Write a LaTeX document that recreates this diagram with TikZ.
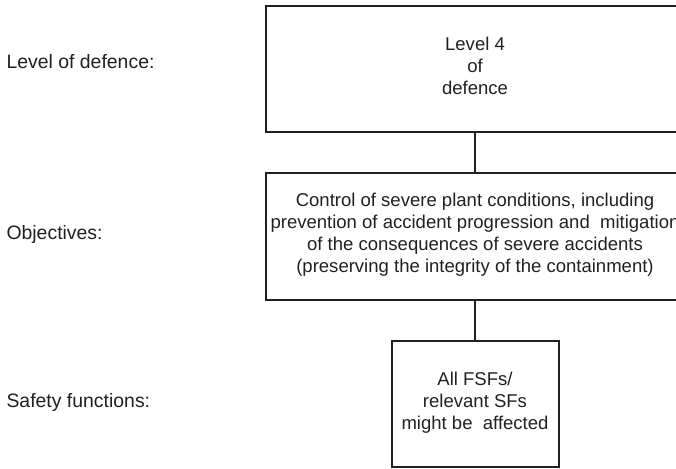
\documentclass[tikz,border=0pt]{standalone}
\usepackage{fontspec}
\setmainfont{Liberation Sans}
\definecolor{ink}{HTML}{231F20}
\begin{document}
\begin{tikzpicture}[x=1bp,y=-1bp,
  every node/.style={text=ink},
  lbl/.style={anchor=west, font=\fontsize{19.5}{22}\selectfont},
  boxtext/.style={align=center, inner sep=0pt, font=\fontsize{18.6}{22}\selectfont},
  link/.style={draw=ink, line width=1.3bp}]
\useasboundingbox (0,0) rectangle (676,469);
\clip (0,0) rectangle (676,469);
% frames
\draw[draw=ink, line width=2.6bp] (266,6) rectangle (690,132);
\draw[draw=ink, line width=1.6bp] (266,173) rectangle (690,300);
\draw[draw=ink, line width=1.6bp] (392,341) rectangle (559,467);
% anchors for the connectors
\coordinate (t) at (475,132);
\coordinate (m1) at (475,173);
\coordinate (m2) at (475,300);
\coordinate (b) at (475,341);
\draw[link] (t) -- (m1);
\draw[link] (m2) -- (b);
% box contents
\node[boxtext] (lvl) at (475,66) {Level 4\\of\\defence};
\node[boxtext] (obj) at (475,235) {Control of severe plant conditions, including\\prevention of accident progression and\ \ mitigation\\of the consequences of severe accidents\\(preserving the integrity of the containment)};
\node[boxtext] (sf) at (475,403) {All FSFs/\\relevant SFs\\might be\ \ affected};
% row labels
\node[lbl] (l1) at (3,62) {Level of defence:};
\node[lbl] (l2) at (3,234) {Objectives:};
\node[lbl] (l3) at (3,402) {Safety functions:};
\end{tikzpicture}
\end{document}
